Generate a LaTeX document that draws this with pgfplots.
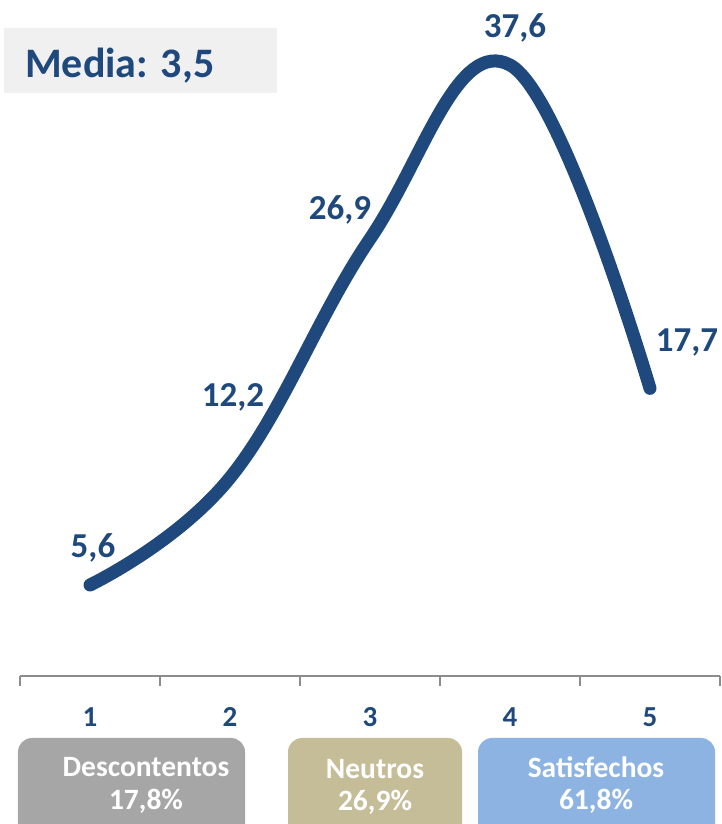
\documentclass[border=0pt]{standalone}
\usepackage{pgfplots}
\pgfplotsset{compat=1.18}
\usepackage{fontspec}
\setmainfont{Carlito}

\definecolor{lineblue}{HTML}{1F497D}
\definecolor{axisgray}{HTML}{8C8C8C}
\definecolor{boxgray}{HTML}{A6A6A6}
\definecolor{boxtan}{HTML}{C4BD97}
\definecolor{boxblue}{HTML}{8DB3E2}
\definecolor{mediabg}{HTML}{F0F0F0}

\begin{document}
\begin{tikzpicture}
\begin{axis}[
    scale only axis,
    width=700pt, height=676pt,
    xmin=0.5, xmax=5.5,
    ymin=0, ymax=41.6,
    clip=false,
    axis y line=none,
    axis x line*=bottom,
    x axis line style={draw=axisgray, line width=1.5pt},
    xtick={1,2,3,4,5},
    xticklabels={1,2,3,4,5},
    major tick length=0pt,
    minor xtick={0.5,1.5,2.5,3.5,4.5,5.5},
    minor tick length=10pt,
    tick align=outside,
    minor tick style={draw=axisgray, line width=1.5pt},
    xticklabel style={anchor=center, yshift=-41pt, text=lineblue,
        font=\fontsize{29}{34}\selectfont\bfseries},
]
\coordinate (O) at (rel axis cs:0,0);
\addplot[lineblue, line width=13pt, line cap=round, smooth, tension=0.68] coordinates {
    (1, 5.6)
    (2, 12.2)
    (3, 26.9)
    (4, 37.6)
    (5, 17.7)
};
\end{axis}

\begin{scope}[shift={(O)}, shift={(-20pt,676pt)}, x=1pt, y=-1pt]
  % media box
  \fill[mediabg] (4,28) rectangle (277,93);
  \node[anchor=base west, inner sep=0pt, text=lineblue,
        font=\fontsize{42}{48}\selectfont\bfseries] at (25,78) {Media: 3,5};
  % data labels
  \begin{scope}[every node/.style={text=lineblue, inner sep=0pt,
        font=\fontsize{35}{40}\selectfont\bfseries}]
    \node at (93,548) {5,6};
    \node at (233,397) {12,2};
    \node at (340,210) {26,9};
    \node at (515,28) {37,6};
    \node at (687,343) {17,7};
  \end{scope}
  % category boxes
  \fill[boxgray, rounded corners=14pt] (18,738) rectangle (245,845);
  \fill[boxtan, rounded corners=14pt] (288,738) rectangle (462,845);
  \fill[boxblue, rounded corners=14pt] (478,738) rectangle (715,845);
  \begin{scope}[every node/.style={text=white, inner sep=0pt,
        font=\fontsize{29.5}{34}\selectfont\bfseries}]
    \node at (146,767) {Descontentos};
    \node at (146,801) {17,8\%};
    \node at (375,769) {Neutros};
    \node at (375,802) {26,9\%};
    \node at (596,767) {Satisfechos};
    \node at (596,801) {61,8\%};
  \end{scope}
\end{scope}

\pgfresetboundingbox
\path ([xshift=-20pt,yshift=-148pt]O) rectangle ([xshift=701pt,yshift=676pt]O);
\end{tikzpicture}
\end{document}
